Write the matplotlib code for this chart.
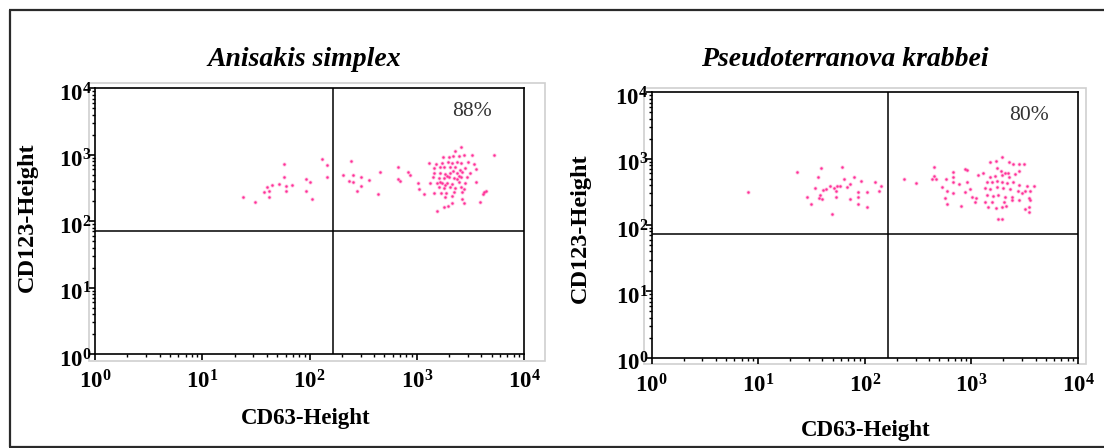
import matplotlib
matplotlib.use('Agg')
import matplotlib.pyplot as plt
from matplotlib.patches import Rectangle
from matplotlib.lines import Line2D
import matplotlib.ticker as mticker
import matplotlib.transforms as mtransforms

plt.rcParams['font.family'] = ['Liberation Serif', 'DejaVu Serif']
plt.rcParams['mathtext.fontset'] = 'custom'
plt.rcParams['mathtext.rm'] = 'Liberation Serif:bold'
plt.rcParams['mathtext.it'] = 'Liberation Serif:bold:italic'
plt.rcParams['mathtext.bf'] = 'Liberation Serif:bold'

# ---------------- data ----------------
titles = ['Anisakis simplex', 'Pseudoterranova krabbei']
percent_labels = ['88%', '80%']
x_label = 'CD63-Height'
y_label = 'CD123-Height'
decade_ticks = [1, 10, 100, 1000, 10000]
decade_labels = [r'$\mathrm{10^{0}}$', r'$\mathrm{10^{1}}$', r'$\mathrm{10^{2}}$',
                 r'$\mathrm{10^{3}}$', r'$\mathrm{10^{4}}$']
gate_cd63 = 165
gate_cd123 = 72

# Anisakis simplex events (CD63, CD123)
as_cd63 = [130, 147, 58, 58, 147, 93, 101, 52, 45, 69, 61, 40, 38, 42, 61, 93, 42, 24, 31, 105,
           243, 206, 254, 301, 234, 255, 355, 456, 301, 277, 437, 668, 822, 859, 663, 698, 1020, 1050,
           2559, 2249, 1746, 1990, 2183, 2466, 2748, 3243, 5200, 1291, 1524, 1722, 1945, 2138, 2382,
           2559, 2992, 3404, 1439, 1637, 1786, 2032, 2296, 2518, 2844, 3606, 1462, 1663, 1851, 2061,
           2382, 2649, 3126, 1419, 1603, 1786, 1990, 2213, 2559, 2951, 3532, 1340, 1545, 1722, 1919,
           2138, 2466, 2844, 1603, 1786, 2032, 2296, 2559, 2748, 1161, 1462, 1687, 1892, 2213, 2649,
           4227, 4416, 1851, 2138, 2649, 2748, 3882, 4169, 2138, 1945, 1811, 1545,
           1919, 2382, 2183, 1851, 2466, 1663]
as_cd123 = [855, 695, 719, 458, 458, 428, 394, 360, 355, 355, 335, 331, 278, 282, 282, 285, 234, 234, 197, 218,
            798, 501, 501, 458, 407, 394, 413, 551, 335, 282, 257, 655, 551, 501, 432, 407, 372, 305,
            1297, 1140, 938, 916, 960, 960, 993, 993, 993, 762, 728, 762, 789, 745, 780,
            745, 789, 728, 625, 647, 662, 647, 662, 590, 625, 604, 526, 526, 508, 538,
            526, 557, 526, 458, 442, 442, 458, 442, 458, 458, 394, 372, 380, 372, 380,
            363, 394, 372, 324, 313, 331, 313, 331, 302, 257, 263, 269, 263, 279, 279,
            279, 288, 229, 240, 213, 190, 197, 257, 186, 169, 162, 144,
            480, 428, 577, 351, 480, 394]

# Pseudoterranova krabbei events (CD63, CD123)
pk_cd63 = [8.1, 23.2, 38.5, 61, 36.8, 79, 93, 64, 34.3, 40.5, 42.9, 47.4, 51, 54.8, 53.2, 58, 68.6, 72,
           38.2, 37, 39.9, 28.6, 54, 72, 86, 86, 106, 31, 86, 106, 49.5,
           124, 141, 136, 234, 301,
           445, 445, 427, 465, 573, 678, 678, 678, 871, 917, 904, 771, 526, 594, 678, 569, 594, 800,
           871, 971, 1007, 1107, 1081, 1164, 1277, 1496, 1693, 1929, 2275, 2483, 2825, 3083, 1730,
           1888, 2075, 2228, 2767, 1496, 1667, 1929, 2275, 2576, 1393, 1553, 1730, 1929, 2148, 2483,
           2767, 3311, 3828, 1343, 1496, 1730, 1971, 2314, 2710, 3199, 3565, 1393, 1585, 1795, 2075,
           2393, 2972, 3436, 3565, 1343, 1553, 2028, 2393, 1445, 1706, 1929, 2118, 2825, 3199, 3508,
           3508, 1770, 1929]
pk_cd123 = [318, 637, 714, 748, 522, 522, 460, 493, 366, 341, 353, 383, 366, 383, 325, 392, 370, 410,
            283, 252, 244, 267, 267, 244, 318, 267, 318, 205, 205, 185, 147,
            450, 386, 329, 493, 425,
            757, 547, 499, 499, 499, 635, 535, 450, 706, 675, 450, 410, 369, 325, 300, 252, 207, 195,
            318, 344, 267, 258, 224, 566, 614, 900, 931, 1045, 900, 830, 830, 830, 714,
            659, 600, 614, 659, 535, 547, 566, 535, 586, 450, 450, 466, 450, 425, 450,
            401, 386, 386, 356, 344, 369, 356, 344, 329, 329, 329, 283, 274, 283, 267,
            267, 300, 252, 238, 224, 224, 219, 238, 189, 178, 189, 193, 238, 172, 185,
            155, 122, 122]

datasets = [(as_cd63, as_cd123), (pk_cd63, pk_cd123)]

# ---------------- layout ----------------
W, H = 1104, 448
fig = plt.figure(figsize=(W / 100, H / 100), dpi=100)

def fx(px):
    return px / W

def fy(py):
    return 1 - py / H

inner = [(95, 88.3, 524, 354), (651.5, 92.3, 1078, 357.7)]
outer = [(89.3, 82.7, 544.6, 360.7), (643.6, 87.7, 1086.4, 364)]
title_pos = [(304, 60), (845, 60)]
xlabel_pos = [(306, 418), (866, 430)]
ylabel_pos = [(27, 217), (580, 228)]
pct_pos = [(0.879, 0.912), (0.884, 0.914)]

frame_kw = dict(color='#2a2a2a', lw=1.6, transform=fig.transFigure, solid_capstyle='butt')
fig.add_artist(Line2D([fx(10), fx(10)], [fy(10), fy(447)], **frame_kw))
fig.add_artist(Line2D([fx(9.2), fx(1104)], [fy(10.5), fy(10.5)], **frame_kw))
fig.add_artist(Line2D([fx(9.2), fx(1104)], [fy(446.8), fy(446.8)], **frame_kw))

ylab_offset = mtransforms.ScaledTranslation(0, -4 / 100, fig.dpi_scale_trans)

for i in range(2):
    l, t, r, b = inner[i]
    ax = fig.add_axes([fx(l), fy(b), fx(r - l), (b - t) / H])
    ol, ot, orr, ob = outer[i]
    fig.add_artist(Rectangle((fx(ol), fy(ob)), fx(orr - ol), (ob - ot) / H,
                             transform=fig.transFigure, fill=False,
                             edgecolor='#cfcfcf', lw=1.2, zorder=0))
    xs, ys = datasets[i]
    ax.scatter(xs, ys, s=9, c='#ff7cc0', marker='o', linewidths=0, alpha=0.45, zorder=3)
    ax.scatter(xs, ys, s=3, c='#ff1f8f', marker='o', linewidths=0, alpha=0.9, zorder=3)
    ax.set_xscale('log')
    ax.set_yscale('log')
    ax.set_xlim(1, 10000)
    ax.set_ylim(1, 10000)
    ax.axvline(gate_cd63, color='black', lw=1.1, zorder=4)
    ax.axhline(gate_cd123, color='black', lw=1.1, zorder=4)
    for sp in ax.spines.values():
        sp.set_linewidth(1.2)
        sp.set_color('black')
    ax.set_xticks(decade_ticks)
    ax.set_xticklabels(decade_labels)
    ax.set_yticks(decade_ticks)
    ax.set_yticklabels(decade_labels)
    ax.xaxis.set_minor_locator(mticker.LogLocator(base=10, subs=range(2, 10), numticks=20))
    ax.yaxis.set_minor_locator(mticker.LogLocator(base=10, subs=range(2, 10), numticks=20))
    ax.xaxis.set_minor_formatter(mticker.NullFormatter())
    ax.yaxis.set_minor_formatter(mticker.NullFormatter())
    ax.tick_params(axis='x', which='major', direction='out', length=4, width=1.2,
                   labelsize=16.5, pad=8)
    ax.tick_params(axis='y', which='major', direction='out', length=4, width=1.2,
                   labelsize=16.5, pad=-1.5)
    ax.tick_params(axis='both', which='minor', direction='out', length=2.5, width=1.0)
    for lab in ax.get_yticklabels():
        lab.set_transform(lab.get_transform() + ylab_offset)
    ax.text(pct_pos[i][0], pct_pos[i][1], percent_labels[i], transform=ax.transAxes,
            ha='center', va='center', fontsize=15.5, color='#333333')
    fig.text(fx(title_pos[i][0]), fy(title_pos[i][1]), titles[i], ha='center', va='center',
             fontsize=20, style='italic', fontweight='bold')
    fig.text(fx(xlabel_pos[i][0]), fy(xlabel_pos[i][1]), x_label, ha='center', va='center',
             fontsize=16.5, fontweight='bold')
    fig.text(fx(ylabel_pos[i][0]), fy(ylabel_pos[i][1]), y_label, ha='center', va='center',
             fontsize=17.5, fontweight='bold', rotation=90)

fig.savefig('out.png', dpi=100)
